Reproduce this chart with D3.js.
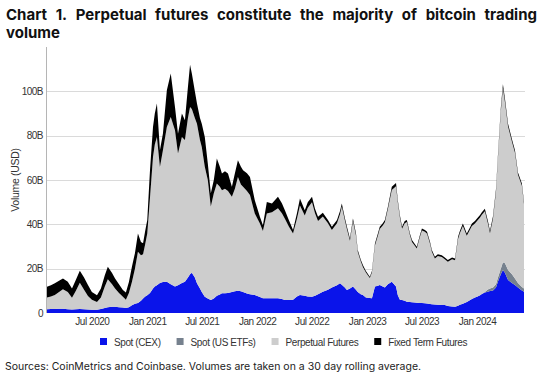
<!DOCTYPE html>
<html><head><meta charset="utf-8">
<script src="https://cdn.jsdelivr.net/npm/d3@7"></script>
<style>
html,body{margin:0;padding:0;background:#fff;}
svg{display:block;}
</style></head><body>
<svg id="chart" width="542" height="379"></svg>
<script>
const dates = [
"2020-02-03","2020-02-16","2020-02-29","2020-03-14","2020-03-27","2020-04-12","2020-04-26","2020-05-09","2020-05-22","2020-06-05","2020-06-18","2020-07-01","2020-07-18","2020-07-31","2020-08-13","2020-08-23","2020-09-06","2020-09-16","2020-09-29","2020-10-12","2020-10-22","2020-11-01","2020-11-11","2020-11-21","2020-12-01","2020-12-11","2020-12-18","2020-12-25",
"2021-01-01","2021-01-10","2021-01-20","2021-01-26","2021-02-02","2021-02-12","2021-02-22","2021-03-07","2021-03-20","2021-04-03","2021-04-13","2021-04-26","2021-05-06","2021-05-16","2021-05-23","2021-05-29","2021-06-08","2021-06-15","2021-06-25","2021-07-01","2021-07-11","2021-07-21","2021-07-31","2021-08-10","2021-08-20","2021-08-30","2021-09-06","2021-09-16","2021-09-26","2021-10-09","2021-10-19","2021-10-29","2021-11-08","2021-11-15","2021-11-28","2021-12-08","2021-12-24",
"2022-01-10","2022-01-20","2022-02-02","2022-02-19","2022-03-11","2022-03-24","2022-04-03","2022-04-16","2022-04-30","2022-05-13","2022-05-23","2022-06-08","2022-06-18","2022-07-02","2022-07-12","2022-07-22","2022-08-07","2022-08-24","2022-09-06","2022-09-23","2022-10-03","2022-10-09","2022-10-19","2022-10-26","2022-11-05","2022-11-15","2022-11-25","2022-12-01","2022-12-11","2022-12-18","2022-12-28",
"2023-01-10","2023-01-17","2023-01-27","2023-02-06","2023-02-12","2023-02-22","2023-03-01","2023-03-11","2023-03-24","2023-04-07","2023-04-13","2023-04-20","2023-04-27","2023-05-06","2023-05-13","2023-05-23","2023-05-30","2023-06-09","2023-06-15","2023-06-25","2023-07-02","2023-07-12","2023-07-19","2023-07-29","2023-08-04","2023-08-14","2023-08-24","2023-09-06","2023-09-16","2023-09-26","2023-10-10","2023-10-20","2023-10-30","2023-11-05","2023-11-15","2023-11-28","2023-12-08","2023-12-15","2023-12-25",
"2024-01-01","2024-01-11","2024-01-17","2024-01-27","2024-02-06","2024-02-13","2024-02-23","2024-03-04","2024-03-10","2024-03-20","2024-03-27","2024-04-03","2024-04-13","2024-04-26","2024-05-06","2024-05-16","2024-05-29","2024-06-05"
];
// values in billions USD
const spotCEX = [
1.7,1.8,1.8,1.9,1.9,1.7,1.6,1.7,1.8,1.7,1.6,1.5,1.5,1.8,2.3,2.6,2.8,2.8,2.6,2.5,2.3,2.6,3.5,4.2,4.5,5.5,6.5,7.5,
8.0,9.0,11.0,11.9,12.5,13.5,14.0,14.1,13.0,11.9,12.5,13.5,14.1,16.0,17.5,18.2,16.0,13.4,11.0,9.5,7.3,6.5,5.9,6.5,7.8,8.3,8.9,8.9,9.0,9.5,9.8,10.0,9.8,9.5,8.8,8.5,8.1,
7.2,6.6,6.6,6.6,6.6,6.3,5.9,5.9,6.0,7.5,8.1,7.8,7.5,7.3,7.8,8.5,9.6,10.5,11.5,12.5,13.4,12.8,11.5,10.4,11.0,11.9,10.5,9.5,8.5,8.1,7.0,
6.8,6.6,11.9,12.3,12.6,12.0,11.5,13.0,14.1,11.9,8.0,6.0,5.9,5.5,5.1,5.0,4.9,4.7,4.6,4.5,4.5,4.4,4.3,4.1,4.0,3.8,3.7,3.6,3.6,3.2,2.9,2.8,3.3,3.7,4.2,5.0,5.8,6.3,7.0,
7.3,8.0,8.6,9.2,9.6,9.9,10.2,11.5,14.0,17.5,19.4,18.0,14.9,13.5,12.6,11.5,10.2,9.6
];
const spotETF = [
0,0,0,0,0,0,0,0,0,0,0,0,0,0,0,0,0,0,0,0,0,0,0,0,0,0,0,0,
0,0,0,0,0,0,0,0,0,0,0,0,0,0,0,0,0,0,0,0,0,0,0,0,0,0,0,0,0,0,0,0,0,0,0,0,0,0,0,
0,0,0,0,0,0,0,0,0,0,0,0,0,0,0,0,0,0,0,0,0,0,0,0,0,0,0,0,0,0,0,
0,0,0,0,0,0,0,0,0,0,0,0,0,0,0,0,0,0,0,0,0,0,0,0,0,0,0,0,0,0,0,0,0,0,0,0,0,0,0,
0,0.3,1.0,1.2,1.3,1.5,1.8,2.5,3.5,4.5,4.5,4.0,3.0,2.0,1.5,1.5,1.5,1.5
];
const perpetual = [
5.3,5.7,6.3,7.6,8.8,7.8,5.3,8.3,11.9,8.8,6.1,4.5,3.5,5.2,9.7,12.6,10.2,8.3,6.4,4.8,3.7,6.4,10.5,15.8,23.1,20.5,20.0,23.5,
27.9,43.0,59.4,64.1,66.9,52.4,59.4,69.8,75.4,70.5,59.5,65.9,63.9,72.0,75.4,73.8,72.0,72.0,67.0,65.4,58.7,53.5,42.1,47.5,50.6,48.7,46.5,47.1,46.0,42.9,46.2,51.4,48.2,47.5,46.2,44.7,36.8,
33.2,30.4,38.3,38.9,40.6,38.7,36.6,33.1,29.9,35.0,40.4,36.2,40.0,42.7,37.2,33.0,33.9,30.0,26.0,28.0,31.1,35.2,30.3,27.4,21.6,29.6,24.5,18.0,14.7,12.7,11.3,
9.0,11.7,18.6,22.7,25.3,27.5,29.4,33.9,41.4,45.3,41.8,37.0,32.1,35.0,35.9,30.2,27.1,25.5,24.5,29.7,32.7,32.2,31.5,27.1,23.6,20.8,22.0,21.7,20.6,19.9,21.3,21.0,30.1,32.3,35.1,29.9,31.6,33.0,33.4,
34.2,35.1,35.7,36.4,29.9,24.9,31.0,41.7,53.1,71.0,78.6,72.4,64.7,59.7,56.7,48.9,45.7,38.1
];
const fixedTerm = [
4.8,5.0,5.3,5.0,4.9,4.6,4.2,5.0,5.4,5.5,4.9,3.5,3.0,4.0,5.0,5.7,5.0,4.5,4.0,3.1,3.3,5.0,6.9,7.0,8.3,6.0,5.0,6.0,
6.0,12.4,13.5,14.0,15.1,7.5,7.6,16.6,19.6,10.5,8.9,10.6,9.0,14.0,19.1,16.0,12.0,9.1,10.0,10.5,13.4,7.5,6.0,6.0,11.3,9.0,7.5,8.0,7.9,4.5,7.0,7.5,8.0,7.4,8.0,8.2,6.0,
3.0,2.6,5.2,3.9,5.2,4.5,3.9,3.0,1.5,2.5,3.2,2.4,2.5,2.4,2.0,1.9,1.7,1.5,1.4,1.4,1.5,1.4,1.2,1.1,1.0,1.1,1.0,0.9,0.8,0.8,0.7,
0.6,0.7,0.9,1.0,1.0,1.0,1.0,1.0,1.4,1.5,1.1,1.0,0.9,1.0,0.9,0.8,0.9,0.8,0.8,0.8,0.9,0.9,0.8,0.8,0.8,0.8,0.8,0.8,0.8,0.8,0.8,0.8,1.0,1.0,1.1,1.0,1.1,1.1,1.1,
1.1,1.1,1.1,1.1,1.1,1.1,1.1,1.2,1.3,1.5,1.7,1.5,1.3,1.2,1.1,1.0,1.0,0.9
];
const seriesNames = ["Spot (CEX)", "Spot (US ETFs)", "Perpetual Futures", "Fixed Term Futures"];
const yTicks = [0, 20, 40, 60, 80, 100];
const yTickLabels = ["0", "20B", "40B", "60B", "80B", "100B"];
const xTickDates = ["2020-07-01","2021-01-01","2021-07-01","2022-01-01","2022-07-01","2023-01-01","2023-07-01","2024-01-01"];
const xTickLabels = ["Jul 2020","Jan 2021","Jul 2021","Jan 2022","Jul 2022","Jan 2023","Jul 2023","Jan 2024"];
const titleText = "Chart 1. Perpetual futures constitute the majority of bitcoin trading volume";
const sourceText = "Sources: CoinMetrics and Coinbase. Volumes are taken on a 30 day rolling average.";

const svg = d3.select("#chart");
const parse = d3.timeParse("%Y-%m-%d");
const keys = ["cex", "etf", "perp", "fixed"];
const colors = ["#0a14ea", "#76818e", "#cdcdcd", "#000000"];
const rows = dates.map((d, i) => ({date: parse(d), cex: spotCEX[i], etf: spotETF[i], perp: perpetual[i], fixed: fixedTerm[i]}));

const L = 47, R = 524, T = 47, B = 313;
const x = d3.scaleTime().domain([parse(dates[0]), parse(dates[dates.length - 1])]).range([L, R]);
const y = d3.scaleLinear().domain([0, 120]).range([B, T]);

const axisFont = "'Liberation Sans', Arial, sans-serif";

// grid
svg.append("g").selectAll("line").data(yTicks.filter(v => v > 0)).join("line")
  .attr("x1", L).attr("x2", R + 1).attr("y1", d => Math.round(y(d)) + 0.5).attr("y2", d => Math.round(y(d)) + 0.5)
  .attr("stroke", "#dadada").attr("stroke-width", 1);

// stacked areas
const stacked = d3.stack().keys(keys)(rows);
const area = d3.area().x(d => x(d.data.date)).y0(d => y(d[0])).y1(d => y(d[1]));
svg.append("g").selectAll("path").data(stacked).join("path")
  .attr("fill", (d, i) => colors[i]).attr("d", area);

// y axis line
svg.append("line").attr("x1", L - 0.5).attr("x2", L - 0.5).attr("y1", T).attr("y2", B)
  .attr("stroke", "#b5b5b5").attr("stroke-width", 1);

// y axis
const yAxis = svg.append("g").attr("transform", `translate(${L},0)`)
  .call(d3.axisLeft(y).tickValues(yTicks).tickFormat((d, i) => yTickLabels[i]).tickSize(0).tickPadding(4));
yAxis.select(".domain").remove();
yAxis.selectAll("text").attr("font-family", axisFont).attr("font-size", 10).attr("fill", "#333").attr("letter-spacing", -0.5);

// x axis
const xAxis = svg.append("g").attr("transform", `translate(0,${B})`)
  .call(d3.axisBottom(x).tickValues(xTickDates.map(parse)).tickFormat((d, i) => xTickLabels[i]).tickSize(0).tickPadding(5));
xAxis.select(".domain").remove();
xAxis.selectAll("text").attr("font-family", axisFont).attr("font-size", 10).attr("fill", "#333").attr("letter-spacing", -0.45);

// y label
svg.append("text").attr("transform", "translate(15,180) rotate(-90)")
  .attr("text-anchor", "middle").attr("dominant-baseline", "central")
  .attr("font-family", axisFont).attr("font-size", 10.5).attr("fill", "#333").attr("letter-spacing", -0.3)
  .text("Volume (USD)");

// legend
const lg = svg.append("g");
let lx = 0;
const items = [];
seriesNames.forEach((name, i) => {
  const g = lg.append("g");
  g.append("rect").attr("x", lx).attr("y", 338).attr("width", 7).attr("height", 7).attr("fill", colors[i]);
  const t = g.append("text").attr("x", lx + 14).attr("y", 345.5).attr("font-family", axisFont).attr("font-size", 10)
    .attr("fill", "#333").attr("letter-spacing", -0.4).text(name);
  lx += 14 + t.node().getComputedTextLength() + 16;
});
const lw = lx - 16;
lg.attr("transform", `translate(${Math.round(283 - lw / 2)},0)`);

// title (justified first line)
const titleFont = "Inter, 'Noto Sans', sans-serif";
const words = titleText.split(" ");
const line1 = words.slice(0, words.length - 1), line2 = words.slice(words.length - 1);
const tg = svg.append("g").attr("font-family", titleFont).attr("font-weight", 700).attr("font-size", 15).attr("fill", "#111");
const wEls = line1.map(w => tg.append("text").attr("y", 20).text(w));
const widths = wEls.map(e => e.node().getComputedTextLength());
const x0 = 6, x1 = 537;
const gap = (x1 - x0 - d3.sum(widths)) / (line1.length - 1);
let cx = x0;
wEls.forEach((e, i) => { e.attr("x", cx); cx += widths[i] + gap; });
tg.append("text").attr("x", x0).attr("y", 38).text(line2.join(" "));

// source
svg.append("text").attr("x", 5).attr("y", 370).attr("font-family", titleFont).attr("font-size", 10.5)
  .attr("fill", "#222").text(sourceText);
</script>
</body></html>
